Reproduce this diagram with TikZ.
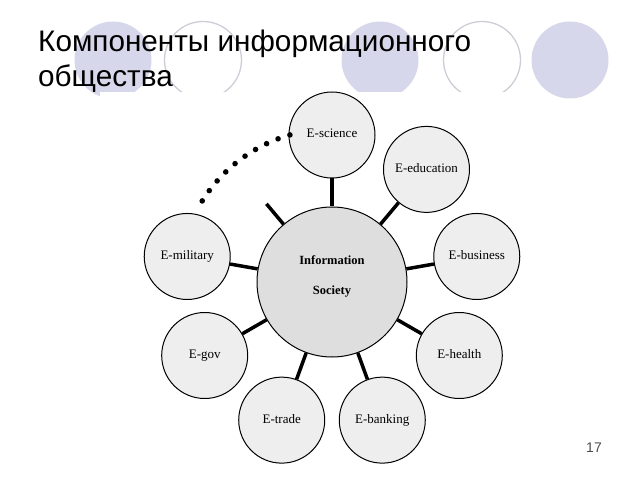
\documentclass[tikz,border=0pt]{standalone}
\usepackage{fontspec}
\setmainfont{Liberation Sans}
\newfontfamily\diagfont{Liberation Serif}
\usetikzlibrary{positioning}
\definecolor{lav}{RGB}{215,215,235}
\definecolor{ring}{RGB}{205,205,215}
\definecolor{satfill}{RGB}{238,238,238}
\definecolor{socfill}{RGB}{222,222,222}

\begin{document}
\begin{tikzpicture}[x=1pt,y=1pt,
    bgdisc/.style={fill=lav,draw=none},
    bgring/.style={draw=ring,line width=1.3pt},
    ttlline/.style={anchor=base west,inner sep=0pt,font=\fontsize{29.7}{35}\selectfont},
    sat/.style={circle,draw=black,line width=1pt,fill=satfill,minimum size=86pt,
      inner sep=0pt,text height=9pt,text depth=3pt,
      font=\diagfont\fontsize{13}{14}\selectfont},
    socnode/.style={circle,draw=black,line width=1pt,fill=socfill,minimum size=150pt,
      inner sep=0pt,align=center,text depth=13pt,
      font=\diagfont\bfseries\fontsize{12.5}{30}\selectfont},
    spoke/.style={line width=3.5pt}]
 \useasboundingbox (0,0) rectangle (640,480);
 % background of the slide
 \foreach \X in {113,380,570} {\path[bgdisc] (\X,420) circle (38.5);}
 \foreach \X in {203,482} {\path[bgring] (\X,420) circle (38.5);}
 \fill[white] (100,10) rectangle (526,388);
 \node[ttlline] (ttla) at (38,428) {Компоненты информационного};
 \node[ttlline] (ttlb) at (38,393) {общества};
 \node[font=\fontsize{14}{16}\selectfont,text=black!70] (pg) at (594,32) {17};
 % the diagram
 \node[socnode] (soc) at (332,198) {Information\\Society};
 \foreach \A/\N/\T in {90/sci/E-science,50/edu/E-education,10/bus/E-business,
   -30/hlt/E-health,-70/bnk/E-banking,-110/trd/E-trade,-150/gov/E-gov,
   170/mil/E-military}
  {\node[sat] (\N) at ([shift={(\A:147)}]soc.center) {\T};}
 \coordinate (stub) at ([shift={(130:102)}]soc.center);
 \path[spoke] foreach \N in {sci,edu,bus,hlt,bnk,trd,gov,mil,stub} {(soc) edge (\N)};
 \foreach \i in {0,...,9} {\fill ([shift={(148-\i*4.67:153)}]soc.center) circle (2.8);}
\end{tikzpicture}
\end{document}
